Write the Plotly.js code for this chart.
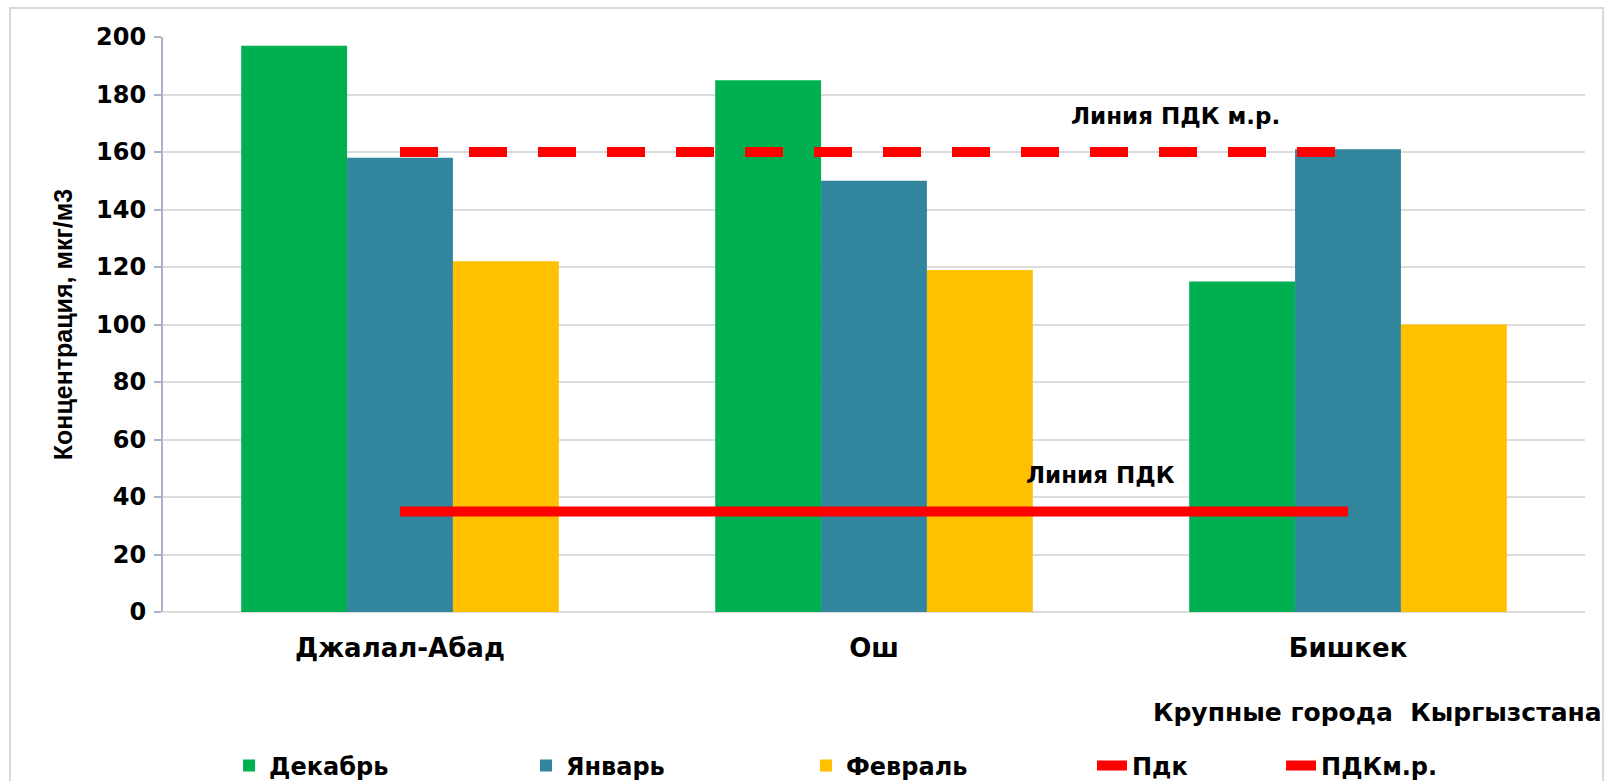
<!DOCTYPE html>
<html>
<head>
<meta charset="utf-8">
<script src="https://cdn.plot.ly/plotly-3.0.1.min.js"></script>
<style>
  html, body { margin: 0; padding: 0; background: #ffffff; }
  #chart { width: 1612px; height: 781px; }
</style>
</head>
<body>
<div id="chart"></div>
<script>
// ---- Data ----
const cities = ['Джалал-Абад', 'Ош', 'Бишкек'];
const december = [197, 185, 115];
const january = [158, 150, 161];
const february = [122, 119, 100];
const pdk = [35, 35, 35];
const pdkMr = [160, 160, 160];

const seriesNames = ['Декабрь', 'Январь', 'Февраль', 'Пдк', 'ПДКм.р.'];
const yTitle = 'Концентрация, мкг/м3';
const xTitle = 'Крупные города  Кыргызстана';
const labelPdk = 'Линия ПДК';
const labelPdkMr = 'Линия ПДК м.р.';

const WIDE = 'DejaVu Sans, Liberation Sans, Arial, sans-serif';
const NARROW = 'Liberation Sans, Arial, sans-serif';

const traces = [
  { type: 'bar', name: seriesNames[0], x: cities, y: december,
    marker: { color: '#00B050' }, legend: 'legend' },
  { type: 'bar', name: seriesNames[1], x: cities, y: january,
    marker: { color: '#31859C' }, legend: 'legend2' },
  { type: 'bar', name: seriesNames[2], x: cities, y: february,
    marker: { color: '#FFC000' }, legend: 'legend3' },
  { type: 'scatter', mode: 'lines', name: seriesNames[3], x: cities, y: pdk,
    line: { color: '#FF0000', width: 10 }, legend: 'legend4' },
  { type: 'scatter', mode: 'lines', name: seriesNames[4], x: cities, y: pdkMr,
    line: { color: '#FF0000', width: 10, dash: '38px,31px' }, legend: 'legend5' }
];

function legendAt(xFrac) {
  return {
    orientation: 'h',
    xref: 'container',
    yref: 'container',
    x: xFrac,
    y: 0.0192,
    xanchor: 'left',
    yanchor: 'middle',
    bgcolor: 'rgba(0,0,0,0)',
    font: { family: WIDE, size: 24, color: '#000000', weight: 'bold' }
  };
}

const layout = {
  width: 1612,
  height: 781,
  paper_bgcolor: '#ffffff',
  plot_bgcolor: '#ffffff',
  margin: { l: 163, r: 27, t: 37, b: 169 },
  font: { family: WIDE, color: '#000000', size: 24, weight: 'bold' },
  barmode: 'group',
  bargap: 0.33,
  bargroupgap: 0,
  showlegend: true,
  legend: legendAt(0.1421),
  legend2: legendAt(0.3263),
  legend3: legendAt(0.5000),
  legend4: legendAt(0.6774),
  legend5: legendAt(0.7947),
  xaxis: {
    type: 'category',
    showline: false,
    showgrid: false,
    zeroline: false,
    ticks: '',
    ticklabelstandoff: 18,
    tickfont: { family: WIDE, size: 26, color: '#000000', weight: 'bold' },
    automargin: false
  },
  yaxis: {
    range: [0, 200],
    dtick: 20,
    tick0: 0,
    showline: true,
    linecolor: '#A9B2C6',
    linewidth: 2,
    ticks: 'outside',
    ticklen: 7,
    tickcolor: '#A9B2C6',
    tickwidth: 2,
    ticklabelstandoff: 3,
    showgrid: true,
    gridcolor: '#DCDCDC',
    gridwidth: 2,
    zeroline: true,
    zerolinecolor: '#DCDCDC',
    zerolinewidth: 2,
    tickfont: { family: WIDE, size: 24, color: '#000000', weight: 'bold' },
    title: {
      text: yTitle,
      font: { family: NARROW, size: 25, color: '#000000', weight: 'bold' },
      standoff: 16
    },
    automargin: false
  },
  annotations: [
    { xref: 'paper', yref: 'paper', x: 0.7117, y: 0.8626,
      xanchor: 'center', yanchor: 'middle', showarrow: false,
      text: labelPdkMr,
      font: { family: WIDE, size: 23, color: '#000000', weight: 'bold' } },
    { xref: 'paper', yref: 'paper', x: 0.659, y: 0.238,
      xanchor: 'center', yanchor: 'middle', showarrow: false,
      text: labelPdk,
      font: { family: WIDE, size: 23, color: '#000000', weight: 'bold' } },
    { xref: 'paper', yref: 'paper', x: 1.0134, y: -0.174,
      xanchor: 'right', yanchor: 'middle', showarrow: false,
      text: xTitle,
      font: { family: WIDE, size: 25, color: '#000000', weight: 'bold' } }
  ],
  shapes: [
    { type: 'rect', xref: 'paper', yref: 'paper', layer: 'below',
      x0: -0.1076, x1: 1.0127, y0: -0.4, y1: 1.0504,
      line: { color: '#D9D9D9', width: 2 }, fillcolor: 'rgba(0,0,0,0)' }
  ]
};

Plotly.newPlot('chart', traces, layout, { displayModeBar: false, staticPlot: true });
</script>
</body>
</html>
